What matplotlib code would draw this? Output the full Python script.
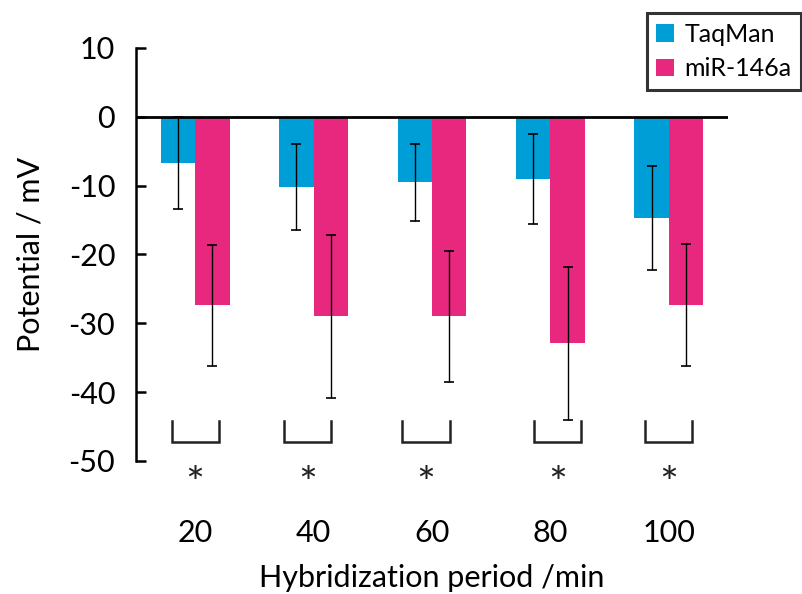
import matplotlib
matplotlib.use("Agg")
import matplotlib.pyplot as plt
import numpy as np

plt.rcParams['font.family'] = ['Lato', 'DejaVu Sans']
plt.rcParams['axes.unicode_minus'] = False

periods = ["20", "40", "60", "80", "100"]
taqman = [-6.7, -10.2, -9.5, -9.0, -14.7]
taqman_err = [6.7, 6.3, 5.6, 6.5, 7.6]
mir = [-27.4, -29.0, -29.0, -32.9, -27.3]
mir_err = [8.8, 11.9, 9.5, 11.1, 8.85]
series_names = ["TaqMan", "miR-146a"]
bracket_offsets = [0.0, -0.05, -0.05, 0.06, 0.0]

c_blue = "#009ED6"
c_pink = "#E8287F"

fig = plt.figure(figsize=(8.02, 5.94), dpi=100)
ax = fig.add_axes([136/802, 1-461/594, (728-136)/802, (461-48)/594])

x = np.arange(len(periods))
w = 0.29
ax.bar(x - w/2, taqman, w, color=c_blue, label=series_names[0], zorder=2)
ax.bar(x + w/2, mir, w, color=c_pink, label=series_names[1], zorder=2)
ax.errorbar(x - w/2, taqman, yerr=taqman_err, fmt='none', ecolor='black',
            elinewidth=1.0, capsize=3.5, capthick=1.2, zorder=3)
ax.errorbar(x + w/2, mir, yerr=mir_err, fmt='none', ecolor='black',
            elinewidth=1.0, capsize=3.5, capthick=1.2, zorder=3)
ax.axhline(0, color='black', lw=2.0, zorder=4)

# significance brackets
for i, off in enumerate(bracket_offsets):
    cx = x[i] + off
    ax.plot([cx-0.2, cx-0.2, cx+0.2, cx+0.2], [-44.2, -47.3, -47.3, -44.2],
            color='#222222', lw=1.8, clip_on=False, solid_joinstyle='miter')
    ax.text(cx, -53.6, '*', ha='center', va='center', fontsize=32,
            color='#222222', clip_on=False)

ax.set_xlim(-0.5, len(periods) - 0.5)
ax.set_ylim(-50, 10)
ax.set_yticks(np.arange(-50, 11, 10))
ax.set_xticks(x)
ax.set_xticklabels(periods)
for s in ['top', 'right', 'bottom']:
    ax.spines[s].set_visible(False)
ax.spines['left'].set_linewidth(1.8)
ax.tick_params(axis='y', direction='in', length=7, width=1.8, labelsize=22, pad=15)
ax.tick_params(axis='x', length=0, labelsize=22, pad=42)
ax.set_xlabel("Hybridization period /min", fontsize=22, labelpad=12)
ax.set_ylabel("Potential / mV", fontsize=22, labelpad=17)

leg = fig.legend(loc='upper right', bbox_to_anchor=(801/802, 1-13/594),
                 fontsize=18, frameon=True, fancybox=False, edgecolor='black',
                 handlelength=0.72, handleheight=0.72, handletextpad=0.4,
                 borderpad=0.38, labelspacing=0.47, borderaxespad=0)
leg.get_frame().set_linewidth(2.2)

fig.savefig("out.png", dpi=100)
